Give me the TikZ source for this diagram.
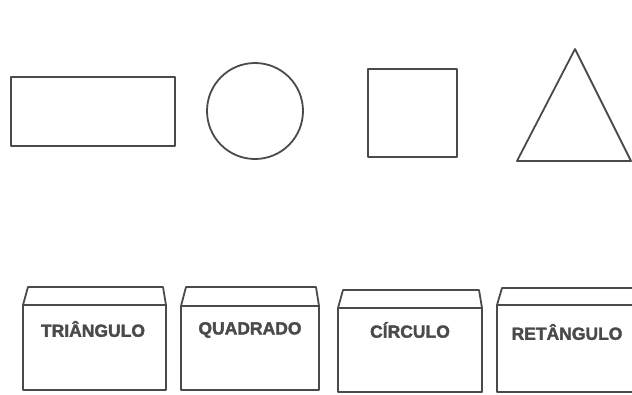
\documentclass[tikz,border=0pt]{standalone}
\usepackage{fontspec}
\newfontfamily\labelfont[BoldFeatures={FakeBold=2}]{Liberation Sans}
\definecolor{ink}{HTML}{4A4A4A}
\tikzset{
    shape line/.style={draw=ink, line width=1.8pt, line join=round},
    box label/.style={font=\labelfont\bfseries\fontsize{17.5}{19}\selectfont, text=ink},
}
\begin{document}
\begin{tikzpicture}[x=1pt,y=-1pt]
    \useasboundingbox (0,0) rectangle (632,394);
    % shapes
    \draw[shape line] (11,77) rectangle (175,146);
    \draw[shape line] (255,111) circle[radius=48];
    \draw[shape line] (368,69) rectangle (457,157);
    \draw[shape line] (575,49) -- (517,161) -- (631,161) -- cycle;
    % boxes with names
    \foreach \xl/\xr/\yt/\yf/\yb in {
        23/166/287/305/390,
        181/319/287/306/390,
        338/482/290/308/392,
        497/645/288/305/392}{
        \draw[shape line] (\xl,\yb) -- (\xl,\yf) -- (\xl+5,\yt) -- (\xr-3,\yt)
            -- (\xr,\yf) -- (\xr,\yb) -- cycle;
        \draw[shape line] (\xl,\yf) -- (\xr,\yf);
    }
    \node[box label] (tri) at (93,329) {TRIÂNGULO};
    \node[box label] (quad) at (250,330) {QUADRADO};
    \node[box label] (circ) at (410,330) {CÍRCULO};
    \node[box label] (ret) at (567,332) {RETÂNGULO};
\end{tikzpicture}
\end{document}
